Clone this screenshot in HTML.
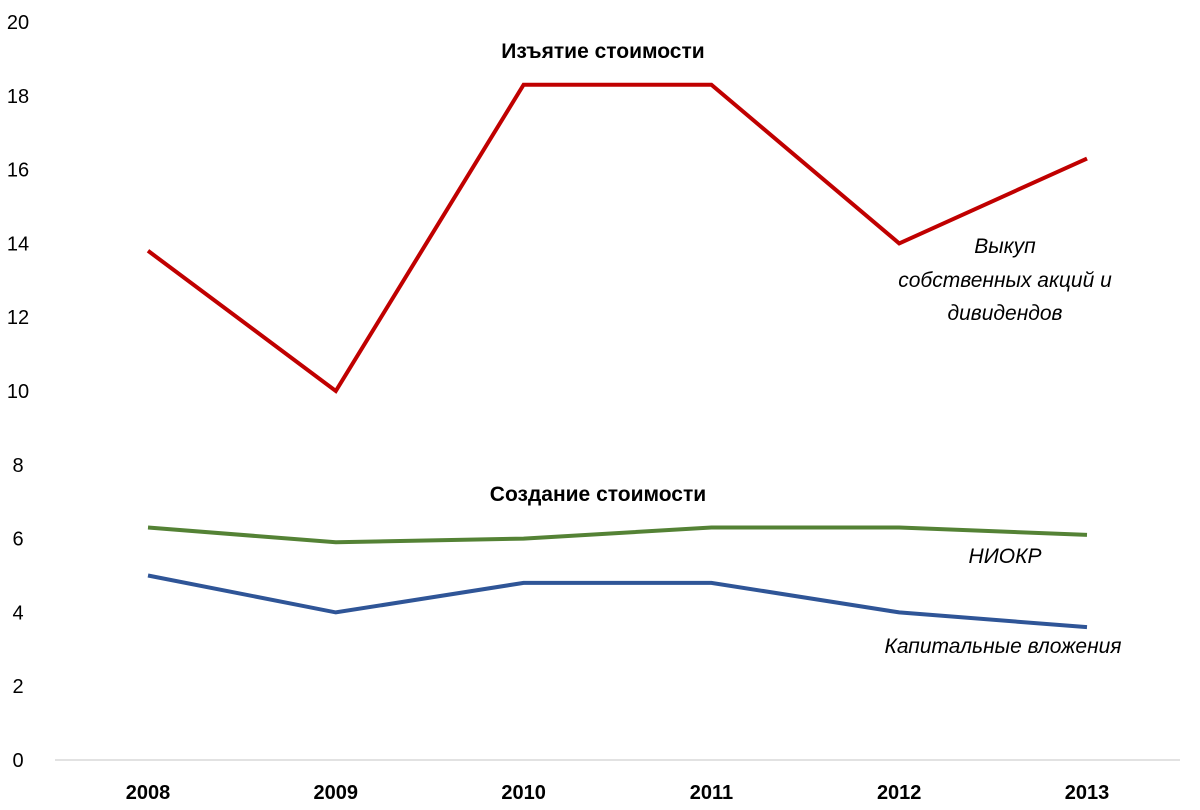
<!DOCTYPE html>
<html><head><meta charset="utf-8"><style>
body{margin:0;background:#fff;}
svg{display:block;font-family:"Liberation Sans",sans-serif;}
</style></head><body>
<svg id="chart" width="1200" height="810">
<g id="yticks"></g>
<g id="xticks"></g>
<line x1="55" y1="760" x2="1180" y2="760" stroke="#d9d9d9" stroke-width="1.5"/>
<g id="series"></g>
<text x="603" y="58" text-anchor="middle" font-size="21" font-weight="bold">Изъятие стоимости</text>
<text x="598" y="501" text-anchor="middle" font-size="21" font-weight="bold">Создание стоимости</text>
<text font-size="21" font-style="italic" text-anchor="middle"><tspan x="1005" y="253">Выкуп</tspan><tspan x="1005" y="287">собственных акций и</tspan><tspan x="1005" y="320">дивидендов</tspan></text>
<text x="1005" y="563" text-anchor="middle" font-size="21" font-style="italic">НИОКР</text>
<text x="1003" y="653" text-anchor="middle" font-size="21" font-style="italic">Капитальные вложения</text>
</svg>
<script>
const years = ["2008","2009","2010","2011","2012","2013"];
const buyback = [13.8, 10.0, 18.3, 18.3, 14.0, 16.3];
const rnd = [6.3, 5.9, 6.0, 6.3, 6.3, 6.1];
const capex = [5.0, 4.0, 4.8, 4.8, 4.0, 3.6];
const yTicks = [0,2,4,6,8,10,12,14,16,18,20];
const NS = "http://www.w3.org/2000/svg";
function xs(i){return 148 + i*187.8;}
function ys(v){return 760 - v*36.9;}
const yg=document.getElementById('yticks');
yTicks.forEach(t=>{
  const el=document.createElementNS(NS,'text');
  
  
  el.setAttribute('x',18);el.setAttribute('y',ys(t)+7);
  el.setAttribute('text-anchor','middle');el.setAttribute('font-size','20');
  el.textContent=t;yg.appendChild(el);
});
const xg=document.getElementById('xticks');
years.forEach((y,i)=>{
  const el=document.createElementNS(NS,'text');
  
  
  el.setAttribute('x',xs(i));el.setAttribute('y',799);
  el.setAttribute('text-anchor','middle');el.setAttribute('font-size','20');el.setAttribute('font-weight','bold');
  el.textContent=y;xg.appendChild(el);
});
const sg=document.getElementById('series');
function line(vals,color,name){
  const p=document.createElementNS(NS,'polyline');
  
  
  p.setAttribute('points',vals.map((v,i)=>xs(i)+','+ys(v)).join(' '));
  p.setAttribute('fill','none');p.setAttribute('stroke',color);p.setAttribute('stroke-width','4');
  p.setAttribute('stroke-linejoin','miter');
  sg.appendChild(p);
}
line(buyback,'#c00000','buyback-line');
line(rnd,'#548235','rnd-line');
line(capex,'#2f5597','capex-line');
</script>
</body></html>
